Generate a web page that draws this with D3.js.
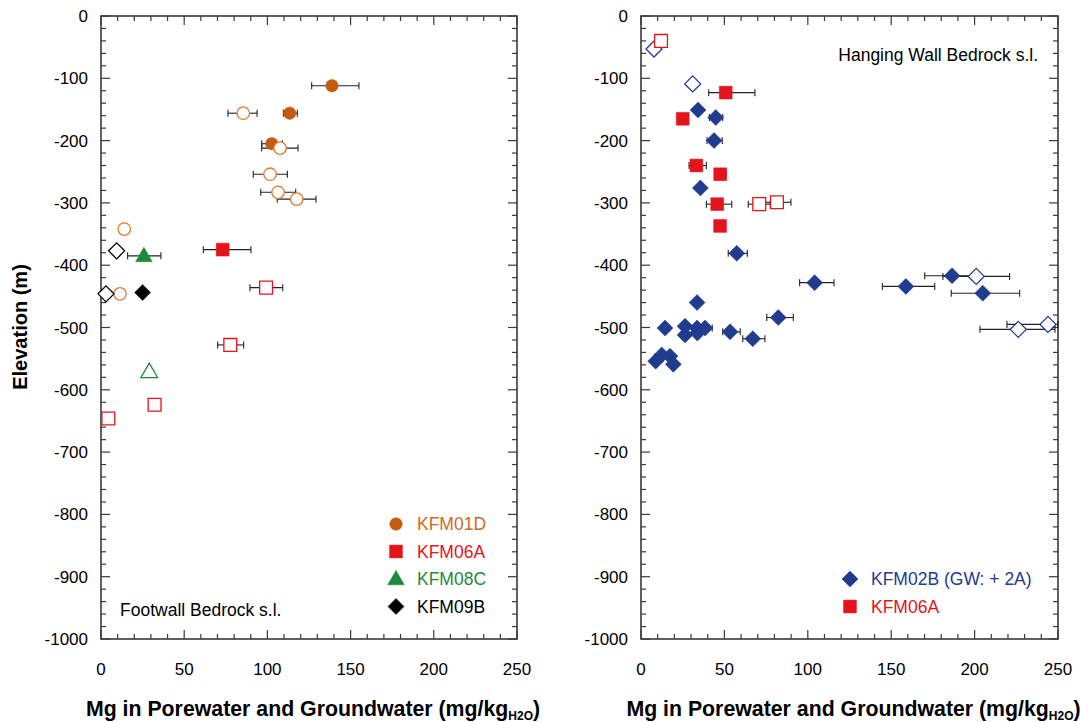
<!DOCTYPE html>
<html>
<head>
<meta charset="utf-8">
<script src="https://cdn.jsdelivr.net/npm/d3@7"></script>
<style>
  body { margin: 0; background: #fff; }
  svg { font-family: "Liberation Sans", Arial, sans-serif; }
</style>
</head>
<body>
<svg id="chart" width="1081" height="722"></svg>
<script>
// tick values
var xTickValues = [0, 50, 100, 150, 200, 250]
var yTickValues = [0, -100, -200, -300, -400, -500, -600, -700, -800, -900, -1000]

// footwall (left) series: [Mg, elevation, errLo, errHi]
var kfm01dFilled = [[138.8, -112, 126.6, 155], [113.4, -156, 109.6, 118], [102.6, -205, 96.6, 109]]
var kfm01dOpen = [[85.5, -156, 76.3, 93.8], [107.6, -212, 96.6, 118.4], [101.6, -254, 91.5, 112],
                  [106.4, -283, 96, 117], [117.6, -294, 105.9, 129.2], [14, -342], [11.4, -446]]
var kfm06aFilledL = [[73.1, -375, 61.5, 90.1]]
var kfm06aOpenL = [[99.2, -436, 89.5, 109.2], [77.7, -528, 70.1, 85.7], [32.2, -624], [4.4, -646]]
var kfm08cFilled = [[25.8, -385, 16, 36]]
var kfm08cOpen = [[29, -571]]
var kfm09bFilled = [[25, -444]]
var kfm09bOpen = [[9.4, -377], [3, -446]]

// hanging wall (right) series
var kfm02bFilled = [[34.2, -151], [44.8, -163, 41, 49], [43.8, -200, 39.6, 48.7], [35.6, -276],
                    [57.4, -381, 52.3, 63.7], [104.1, -428, 95.1, 115.7], [158.8, -434, 144.7, 176.1],
                    [186.5, -417, 170.1, 203], [204.9, -445, 186, 227], [33.6, -460],
                    [82.3, -484, 75.4, 91.3], [14.4, -501], [26.4, -498], [33.6, -501],
                    [38.4, -501, 34, 42.7], [26.4, -512], [33.8, -509], [53.4, -507, 49, 59.5],
                    [67, -518, 61, 74.3], [8.8, -554], [12.4, -544], [17.4, -546], [19.4, -559]]
var kfm02bOpen = [[7.8, -53], [31, -109], [201, -418, 181, 221], [244, -495, 219.4, 250],
                  [226.2, -503, 203.2, 248.2]]
var kfm06aFilledR = [[50.8, -123, 40.6, 68.3], [25, -165], [33.2, -240, 28.8, 39.2],
                     [47.5, -254, 44, 51], [45.7, -302, 39.2, 54.4], [47.4, -337]]
var kfm06aOpenR = [[12, -40], [70.9, -302, 64.3, 77.5], [81.5, -299, 73, 89.9]]

var orange = "#c55a11", orangeLine = "#e07a35", red = "#e3141b", green = "#1d8a3a",
    black = "#000", blue = "#213b8f"

var panels = [
    {
        left: 101, right: 517,
        label: "Footwall Bedrock s.l.", labelX: 120, labelY: 616, labelAnchor: "start",
        series: [
            {data: kfm01dFilled, shape: "circle", color: orange, filled: true},
            {data: kfm01dOpen, shape: "circle", color: orangeLine, filled: false},
            {data: kfm06aOpenL, shape: "square", color: red, filled: false},
            {data: kfm06aFilledL, shape: "square", color: red, filled: true},
            {data: kfm08cOpen, shape: "triangle", color: green, filled: false},
            {data: kfm08cFilled, shape: "triangle", color: green, filled: true},
            {data: kfm09bOpen, shape: "diamond", color: black, filled: false},
            {data: kfm09bFilled, shape: "diamond", color: black, filled: true}
        ],
        legend: [
            {name: "KFM01D", shape: "circle", color: orange, text: "#d06a20"},
            {name: "KFM06A", shape: "square", color: red, text: red},
            {name: "KFM08C", shape: "triangle", color: green, text: green},
            {name: "KFM09B", shape: "diamond", color: black, text: black}
        ],
        legendX: 396, legendY: 524
    },
    {
        left: 641, right: 1058,
        label: "Hanging Wall Bedrock s.l.", labelX: 1038, labelY: 61, labelAnchor: "end",
        series: [
            {data: kfm02bOpen, shape: "diamond", color: blue, filled: false},
            {data: kfm06aOpenR, shape: "square", color: red, filled: false},
            {data: kfm02bFilled, shape: "diamond", color: blue, filled: true},
            {data: kfm06aFilledR, shape: "square", color: red, filled: true}
        ],
        legend: [
            {name: "KFM02B (GW: + 2A)", shape: "diamond", color: blue, text: blue},
            {name: "KFM06A", shape: "square", color: red, text: red}
        ],
        legendX: 850, legendY: 579
    }
]

var svg = d3.select("#chart")
var plotTop = 16, plotBottom = 639
var frameColor = "#3a3a3a"

function symbolPath(shape)
{
    if(shape == "circle") return d3.symbol(d3.symbolCircle, 122)()
    if(shape == "square") return d3.symbol(d3.symbolSquare, 165)()
    if(shape == "triangle") return d3.symbol(d3.symbolTriangle, 120)()
    // diamond: square rotated 45 degrees
    var h = 8
    return "M0," + (-h) + "L" + h + ",0L0," + h + "L" + (-h) + ",0Z"
}

function drawMarker(g, shape, color, filled, x, y)
{
    g.append("path")
        .attr("d", symbolPath(shape))
        .attr("transform", "translate(" + x + "," + (shape == "triangle" ? y + 1 : y) + ")")
        .attr("fill", filled ? color : "#fff")
        .attr("stroke", color)
        .attr("stroke-width", filled ? 0.5 : 1.3)
}

panels.forEach(function(p)
{
    var x = d3.scaleLinear().domain([0, 250]).range([p.left, p.right])
    var y = d3.scaleLinear().domain([0, -1000]).range([plotTop, plotBottom])
    var g = svg.append("g")

    // inward ticks, minor and major, on all four sides
    var xMinor = d3.range(0, 251, 10)
    var yMinor = d3.range(0, -1001, -20)
    var ticks = g.append("g").attr("stroke", frameColor).attr("stroke-width", 1.2)
    xMinor.forEach(function(v)
    {
        var len = (v % 50 == 0) ? 9 : 5
        ticks.append("line").attr("x1", x(v)).attr("x2", x(v)).attr("y1", plotBottom).attr("y2", plotBottom - len)
        ticks.append("line").attr("x1", x(v)).attr("x2", x(v)).attr("y1", plotTop).attr("y2", plotTop + len)
    })
    yMinor.forEach(function(v)
    {
        var len = (v % 100 == 0) ? 9 : 5
        ticks.append("line").attr("y1", y(v)).attr("y2", y(v)).attr("x1", p.left).attr("x2", p.left + len)
        ticks.append("line").attr("y1", y(v)).attr("y2", y(v)).attr("x1", p.right).attr("x2", p.right - len)
    })

    g.append("rect")
        .attr("x", p.left).attr("y", plotTop)
        .attr("width", p.right - p.left).attr("height", plotBottom - plotTop)
        .attr("fill", "none").attr("stroke", frameColor).attr("stroke-width", 1.6)

    // tick labels
    g.selectAll(".xl").data(xTickValues).enter().append("text")
        .attr("x", function(d){ return x(d) })
        .attr("y", 675)
        .attr("text-anchor", "middle")
        .attr("font-size", 17)
        .text(function(d){ return d })
    g.selectAll(".yl").data(yTickValues).enter().append("text")
        .attr("x", p.left - 13)
        .attr("y", function(d){ return y(d) + 6 })
        .attr("text-anchor", "end")
        .attr("font-size", 17)
        .text(function(d){ return d })

    // x axis title with subscript
    var t = g.append("text")
        .attr("x", (p.left + p.right) / 2 + 4)
        .attr("y", 716)
        .attr("text-anchor", "middle")
        .attr("font-size", 21.3)
        .attr("font-weight", "bold")
    t.append("tspan").text("Mg in Porewater and Groundwater (mg/kg")
    t.append("tspan").attr("font-size", 12).attr("dy", 4).text("H2O")
    t.append("tspan").attr("dy", -4).text(")")

    // panel label
    g.append("text")
        .attr("x", p.labelX).attr("y", p.labelY)
        .attr("text-anchor", p.labelAnchor)
        .attr("font-size", 17.5)
        .text(p.label)

    // error bars first, then markers
    var plot = g.append("g")
    p.series.forEach(function(s)
    {
        s.data.forEach(function(d)
        {
            if(d.length < 4) return
            var x1 = x(d[2]), x2 = Math.min(x(d[3]), p.right), yy = y(d[1])
            plot.append("line").attr("x1", x1).attr("x2", x2).attr("y1", yy).attr("y2", yy)
                .attr("stroke", "#222").attr("stroke-width", 1.1)
            plot.append("line").attr("x1", x1).attr("x2", x1).attr("y1", yy - 3.5).attr("y2", yy + 3.5)
                .attr("stroke", "#222").attr("stroke-width", 1.1)
            if(x(d[3]) <= p.right)
                plot.append("line").attr("x1", x2).attr("x2", x2).attr("y1", yy - 3.5).attr("y2", yy + 3.5)
                    .attr("stroke", "#222").attr("stroke-width", 1.1)
        })
    })
    p.series.forEach(function(s)
    {
        s.data.forEach(function(d)
        {
            drawMarker(plot, s.shape, s.color, s.filled, x(d[0]), y(d[1]))
        })
    })

    // legend
    p.legend.forEach(function(l, i)
    {
        var ly = p.legendY + i * 27.5
        drawMarker(g, l.shape, l.color, true, p.legendX, ly)
        g.append("text")
            .attr("x", p.legendX + 21).attr("y", ly + 6)
            .attr("font-size", 17.5)
            .attr("fill", l.text)
            .text(l.name)
    })
})

// y axis title
svg.append("text")
    .attr("transform", "translate(27,327) rotate(-90)")
    .attr("text-anchor", "middle")
    .attr("font-size", 20)
    .attr("font-weight", "bold")
    .text("Elevation (m)")
</script>
</body>
</html>
